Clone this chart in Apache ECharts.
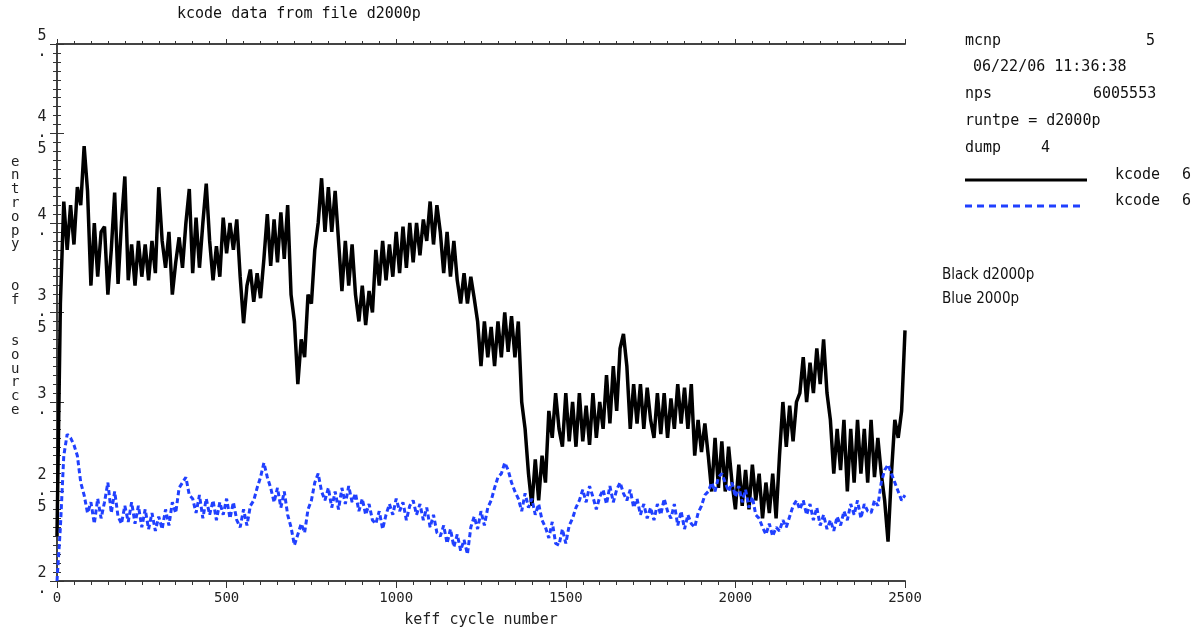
<!DOCTYPE html>
<html>
<head>
<meta charset="utf-8">
<title>kcode data from file d2000p</title>
<script src="https://cdn.jsdelivr.net/npm/echarts@6/dist/echarts.min.js"></script>
<style>
  html, body { margin: 0; padding: 0; background: #fff; }
  #main { width: 1202px; height: 633px; }
</style>
</head>
<body>
<div id="main"></div>
<script>
// cycle step between stored samples
const cycleStep = 10;

// black: d2000p, entropy of source every 10 cycles (0..2500)
const blackEntropy = [
  2.25, 3.55,
  4.12, 3.85, 4.1, 3.88,
  4.2, 4.1, 4.43, 4.18,
  3.65, 4.0, 3.7, 3.95,
  3.98, 3.6,
  3.85, 4.17,
  3.66, 4.0, 4.26, 3.68,
  3.88, 3.65, 3.9, 3.7, 3.88, 3.68, 3.9, 3.72,
  4.2, 3.9, 3.75, 3.95, 3.6, 3.78,
  3.92, 3.75,
  4.0, 4.19, 3.72, 4.03, 3.75,
  4.0, 4.22, 3.9,
  3.68, 3.87, 3.7,
  4.03, 3.83, 4.0, 3.85, 4.02,
  3.7, 3.44, 3.65,
  3.74, 3.56, 3.72, 3.58,
  3.8, 4.05, 3.76, 4.02, 3.78, 4.06, 3.8, 4.1,
  3.6, 3.45, 3.1,
  3.35, 3.25, 3.6, 3.55, 3.85,
  4.0, 4.25, 3.95, 4.2, 3.95, 4.18, 3.9,
  3.62, 3.9, 3.65, 3.88, 3.6,
  3.45, 3.65, 3.43, 3.62, 3.5,
  3.85, 3.65, 3.9, 3.68, 3.88, 3.7, 3.95, 3.72, 3.98, 3.75, 4.0, 3.78, 4.0, 3.82, 4.02,
  3.9, 4.12, 3.88, 4.1, 3.95,
  3.72, 3.95, 3.7, 3.9, 3.68,
  3.55, 3.72, 3.55, 3.7, 3.58, 3.45,
  3.2, 3.45, 3.25, 3.42, 3.2, 3.45,
  3.25, 3.5, 3.28, 3.48, 3.25, 3.45,
  3.0, 2.85, 2.6,
  2.42, 2.68, 2.45, 2.7, 2.55,
  2.95, 2.8, 3.05, 2.85,
  2.75, 3.05, 2.78, 3.0, 2.75, 3.05, 2.78, 2.98, 2.76, 3.05, 2.8, 3.0,
  2.85, 3.15, 2.88, 3.2, 2.95,
  3.3, 3.38, 3.2,
  2.85, 3.1, 2.88, 3.1, 2.85, 3.08, 2.9,
  2.8, 3.05, 2.82, 3.05, 2.8, 3.02,
  2.85, 3.1, 2.88, 3.08, 2.85, 3.1,
  2.7, 2.9, 2.72, 2.88, 2.7,
  2.5, 2.8, 2.52, 2.78, 2.5, 2.75, 2.55,
  2.4, 2.65, 2.42, 2.62, 2.4, 2.65, 2.45, 2.6,
  2.35, 2.55, 2.38, 2.6, 2.35,
  2.7, 3.0, 2.75, 2.98, 2.78, 3.0,
  3.05, 3.25, 3.0, 3.22,
  3.05, 3.3, 3.1, 3.35, 3.05,
  2.9, 2.6, 2.85, 2.62, 2.9,
  2.5, 2.85, 2.55, 2.9, 2.6, 2.85, 2.55, 2.9, 2.58, 2.8, 2.6,
  2.45, 2.22, 2.6,
  2.9, 2.8, 2.95, 3.4
];

// blue: 2000p, entropy of source every 10 cycles (0..2500)
const blueEntropy = [
  2.0, 2.3, 2.7, 2.82, 2.8, 2.76, 2.7, 2.55, 2.48, 2.38,
  2.44, 2.32, 2.46, 2.35, 2.44, 2.55, 2.38, 2.5, 2.36, 2.32,
  2.42, 2.33, 2.44, 2.32, 2.42, 2.3, 2.4, 2.29, 2.38, 2.28,
  2.36, 2.29, 2.4, 2.31, 2.44, 2.38, 2.52, 2.55, 2.58, 2.48,
  2.46, 2.38, 2.48, 2.35, 2.46, 2.37, 2.45, 2.34, 2.44, 2.37,
  2.46, 2.35, 2.44, 2.34, 2.3, 2.4, 2.31, 2.42, 2.45, 2.52,
  2.58, 2.66, 2.58, 2.52, 2.44, 2.52, 2.41, 2.5, 2.37, 2.3,
  2.2, 2.26, 2.32, 2.27, 2.4, 2.45, 2.55, 2.6, 2.5, 2.45,
  2.52, 2.41, 2.5, 2.4, 2.52, 2.43, 2.53, 2.44, 2.49, 2.39,
  2.46, 2.37, 2.43, 2.34, 2.32, 2.39, 2.29, 2.37, 2.43, 2.37,
  2.46, 2.39, 2.44, 2.34, 2.42, 2.45, 2.37, 2.43, 2.34, 2.41,
  2.3, 2.37, 2.27, 2.25, 2.31, 2.21, 2.29, 2.19, 2.26, 2.17,
  2.23, 2.15, 2.3, 2.36, 2.29, 2.39, 2.31, 2.41, 2.45, 2.52,
  2.58, 2.6, 2.66, 2.62, 2.55, 2.5, 2.46, 2.39, 2.49, 2.41,
  2.46, 2.37, 2.43, 2.34, 2.3, 2.24, 2.33, 2.21, 2.2, 2.29,
  2.21, 2.31, 2.35, 2.41, 2.45, 2.51, 2.44, 2.53, 2.47, 2.4,
  2.47, 2.51, 2.43, 2.53, 2.44, 2.51, 2.55, 2.49, 2.45, 2.51,
  2.41, 2.46, 2.37, 2.43, 2.35, 2.41, 2.34, 2.43, 2.37, 2.46,
  2.39, 2.35, 2.43, 2.31, 2.39, 2.29, 2.37, 2.32, 2.3, 2.38,
  2.42, 2.48, 2.5, 2.55, 2.5, 2.58, 2.6, 2.55, 2.5, 2.55,
  2.47, 2.53, 2.44, 2.51, 2.41, 2.47, 2.37, 2.35, 2.3, 2.26,
  2.32, 2.25, 2.3, 2.28, 2.34, 2.3, 2.36, 2.42, 2.45, 2.4,
  2.45, 2.37, 2.43, 2.34, 2.41, 2.31, 2.37, 2.29, 2.34, 2.28,
  2.36, 2.31, 2.39, 2.34, 2.43, 2.37, 2.45, 2.35, 2.43, 2.39,
  2.38, 2.45, 2.42, 2.55, 2.62, 2.65, 2.6, 2.55, 2.5, 2.45,
  2.48
];

const mono = 'DejaVu Sans Mono';
const textFont = '15px ' + mono;

const toPairs = (vals) => vals.map((v, i) => [i * cycleStep, v]);

const chart = echarts.init(document.getElementById('main'));

const tickStyle = { show: true, inside: false, length: 7, lineStyle: { color: '#333', width: 1 } };
const minorStyle = { show: true, splitNumber: 10, length: 4, lineStyle: { color: '#333', width: 1 } };
const lineStyle = { show: true, lineStyle: { color: '#444', width: 2 } };

// y labels drawn as stacked characters like the original plot
const yLabel = (v) => {
  const whole = Math.floor(v + 1e-9);
  const half = Math.abs(v - whole - 0.5) < 1e-6;
  return half ? whole + '\n.\n5' : whole + '\n.';
};

const label = (x, y, text) => ({
  type: 'text', x, y,
  style: { text, font: textFont, fill: '#111', verticalAlign: 'middle' }
});

const option = {
  backgroundColor: '#fff',
  animation: false,
  grid: { left: 57, right: 297, top: 44, bottom: 51 },
  xAxis: [
    {
      type: 'value', min: 0, max: 2500, interval: 500,
      axisLine: lineStyle, axisTick: tickStyle, minorTick: minorStyle,
      splitLine: { show: false },
      axisLabel: { color: '#222', fontFamily: mono, fontSize: 14, margin: 10, formatter: (v) => String(v) },
      name: 'keff cycle number', nameLocation: 'middle', nameGap: 32,
      nameTextStyle: { color: '#222', fontFamily: mono, fontSize: 15 }
    },
    {
      type: 'value', position: 'top', min: 0, max: 2500, interval: 500,
      axisLine: lineStyle, axisTick: { ...tickStyle, length: 5 },
      minorTick: { ...minorStyle, length: 3 },
      splitLine: { show: false }, axisLabel: { show: false }
    }
  ],
  yAxis: [
    {
      type: 'value', min: 2, max: 5, interval: 0.5,
      axisLine: lineStyle, axisTick: tickStyle, minorTick: minorStyle,
      splitLine: { show: false },
      axisLabel: {
        color: '#222', fontFamily: mono, fontSize: 15, lineHeight: 16,
        align: 'center', margin: 15, formatter: yLabel
      }
    },
    {
      type: 'value', position: 'right', min: 2, max: 5, interval: 0.5,
      axisLine: lineStyle, axisTick: tickStyle, minorTick: minorStyle,
      splitLine: { show: false }, axisLabel: { show: false }
    }
  ],
  series: [
    {
      name: 'kcode d2000p', type: 'line', data: toPairs(blackEntropy),
      showSymbol: false, lineStyle: { color: '#000', width: 3.5 }, z: 2
    },
    {
      name: 'kcode 2000p', type: 'line', data: toPairs(blueEntropy),
      showSymbol: false, lineStyle: { color: '#2040ff', width: 3, type: [5, 3] }, z: 3
    }
  ],
  graphic: [
    label(177, 14, 'kcode data from file d2000p'),
    { type: 'text', x: 11, y: 162, style: { text: 'e\nn\nt\nr\no\np\ny\n\n\no\nf\n\n\ns\no\nu\nr\nc\ne', font: '14px ' + mono, fill: '#222', lineHeight: 13.8, verticalAlign: 'top', y: -7 } },

    label(965, 41, 'mcnp'),
    label(1146, 41, '5'),
    label(973, 67, '06/22/06 11:36:38'),
    label(965, 94, 'nps'),
    label(1093, 94, '6005553'),
    label(965, 121, 'runtpe = d2000p'),
    label(965, 148, 'dump'),
    label(1041, 148, '4'),
    { type: 'line', shape: { x1: 965, y1: 180, x2: 1087, y2: 180 }, style: { stroke: '#000', lineWidth: 3 } },
    label(1115, 175, 'kcode'),
    label(1182, 175, '6'),
    { type: 'line', shape: { x1: 965, y1: 206, x2: 1083, y2: 206 }, style: { stroke: '#2040ff', lineWidth: 3, lineDash: [7, 5] } },
    label(1115, 201, 'kcode'),
    label(1182, 201, '6'),

    { type: 'text', x: 942, y: 275, style: { text: 'Black d2000p', font: '15px "DejaVu Sans Condensed", "Liberation Sans Narrow", sans-serif', fill: '#111', verticalAlign: 'middle' } },
    { type: 'text', x: 942, y: 299, style: { text: 'Blue 2000p', font: '15px "DejaVu Sans Condensed", "Liberation Sans Narrow", sans-serif', fill: '#111', verticalAlign: 'middle' } }
  ]
};

chart.setOption(option);
</script>
</body>
</html>
